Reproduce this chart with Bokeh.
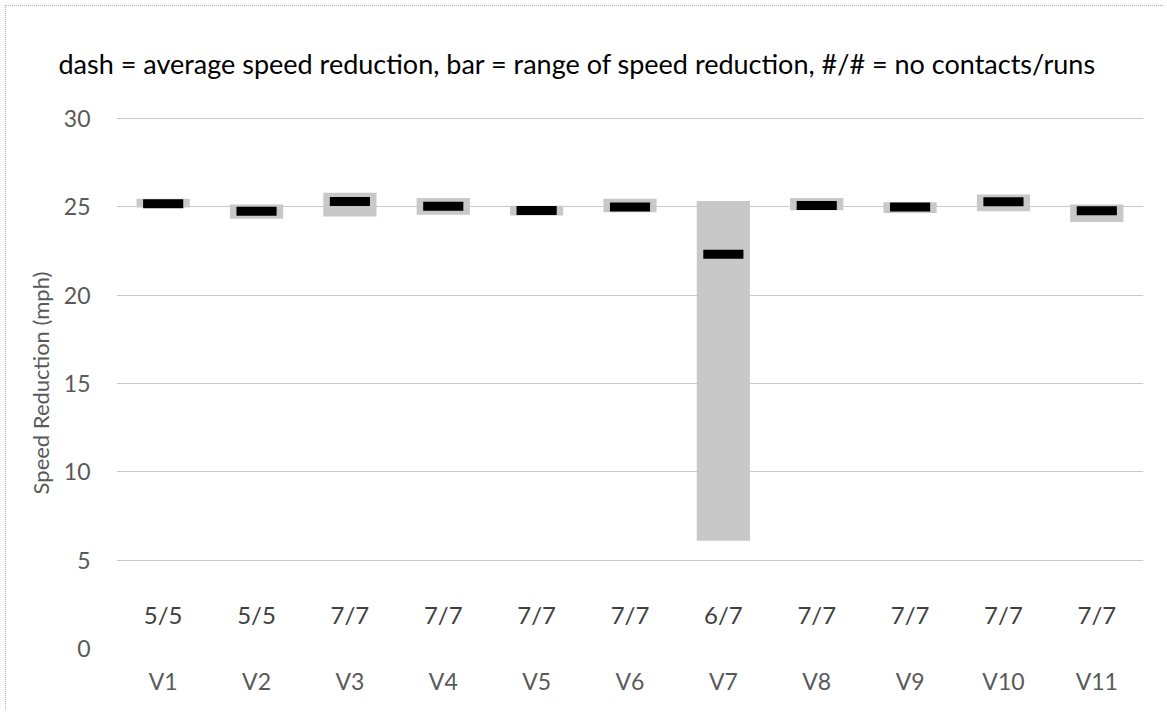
from bokeh.plotting import figure
from bokeh.models import FactorRange, FixedTicker, ColumnDataSource
from bokeh.core.properties import value
from bokeh.embed import file_html
from bokeh.resources import INLINE

categories = ["V1", "V2", "V3", "V4", "V5", "V6", "V7", "V8", "V9", "V10", "V11"]
range_low = [24.95, 24.32, 24.45, 24.55, 24.50, 24.69, 6.10, 24.80, 24.64, 24.75, 24.13]
range_high = [25.45, 25.13, 25.79, 25.49, 25.05, 25.45, 25.32, 25.50, 25.26, 25.69, 25.13]
average = [25.17, 24.74, 25.30, 25.03, 24.79, 24.98, 22.31, 25.07, 24.99, 25.28, 24.77]
contacts_runs = ["5/5", "5/5", "7/7", "7/7", "7/7", "7/7", "6/7", "7/7", "7/7", "7/7", "7/7"]
y_ticks = [0, 5, 10, 15, 20, 25, 30]

title_text = "dash = average speed reduction, bar = range of speed reduction, #/# = no contacts/runs"
FONT = "Lato"
COUNT_Y = 1.9

p = figure(
    width=1158, height=705,
    x_range=FactorRange(factors=categories, range_padding=0),
    y_range=(0, 30.05),
    output_backend="svg", toolbar_location=None,
    min_border_left=110, min_border_right=21, min_border_top=111, min_border_bottom=63,
)
p.styles = {"margin-left": "5px", "margin-top": "5px",
            "border-left": "1px dotted #b0b0b0", "border-top": "1px dotted #b0b0b0"}

p.title.text = title_text
p.title.text_font = FONT
p.title.text_font_size = "27px"
p.title.text_font_style = "normal"
p.title.text_color = "#000000"
p.title.align = "left"
p.title.offset = -58
p.title.standoff = 76

p.outline_line_color = None
p.background_fill_color = "white"
p.border_fill_color = "white"

p.xgrid.grid_line_color = None
p.ygrid.grid_line_color = "#c8c8c8"
p.ygrid.grid_line_width = 1
p.yaxis.ticker = FixedTicker(ticks=y_ticks)

for ax in (p.xaxis[0], p.yaxis[0]):
    ax.axis_line_color = None
    ax.major_tick_line_color = None
    ax.minor_tick_line_color = None
    ax.major_label_text_font = FONT
    ax.major_label_text_font_size = "23px"
    ax.major_label_text_color = "#595959"

p.yaxis.major_label_standoff = 20
p.xaxis.major_label_standoff = 12
p.yaxis.axis_label = "Speed Reduction (mph)"
p.yaxis.axis_label_text_font = FONT
p.yaxis.axis_label_text_font_size = "22px"
p.yaxis.axis_label_text_font_style = "normal"
p.yaxis.axis_label_text_color = "#595959"
p.yaxis.axis_label_standoff = 7

src = ColumnDataSource(dict(cat=categories, low=range_low, high=range_high,
                            avg=average, label=contacts_runs,
                            ly=[COUNT_Y] * len(categories)))

p.vbar(x="cat", bottom="low", top="high", width=0.57, source=src,
       fill_color="#c8c8c8", line_color=None)
p.rect(x="cat", y="avg", width=0.43, height=9, height_units="screen", source=src,
       fill_color="#000000", line_color=None)
p.text(x="cat", y="ly", text="label", source=src,
       text_font=value(FONT), text_font_size="24px", text_color="#404040",
       text_align="center", text_baseline="middle")

open("out.html", "w").write(file_html(p, INLINE))
